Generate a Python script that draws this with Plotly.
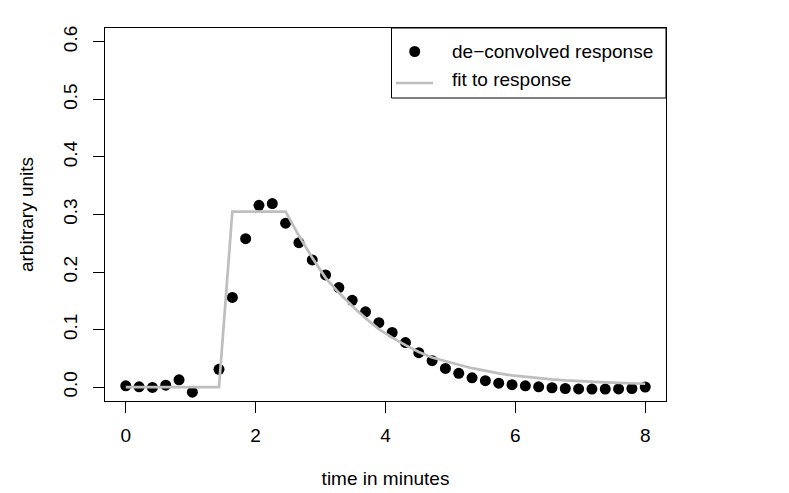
import plotly.graph_objects as go

# ---- data ----
n_points = 40
time_min = [i * 8 / 39 for i in range(n_points)]  # 40 sample times spanning 0..8 min

deconvolved = [0.0024, 0.0007, -0.0005, 0.0035, 0.0128, -0.0087, None, 0.031,
               0.156, 0.258, 0.316, 0.319, 0.285, 0.251, 0.221, 0.195,
               0.173, 0.151, 0.131, 0.112, 0.095, 0.0776, 0.060, 0.046,
               0.0325, 0.024, 0.0163, 0.0113, 0.0069, 0.0043, 0.0024, 0.0007,
               -0.001, -0.0023, -0.003, -0.0033, -0.0033, -0.003, -0.0023, 0.0003]

fit = [0, 0, 0, 0, 0, 0, 0, 0,
       0.305, 0.305, 0.305, 0.305, 0.305, 0.263, 0.225, 0.190,
       0.164, 0.141, 0.120, 0.101, 0.086, 0.073, 0.061, 0.0515,
       0.0446, 0.039, 0.033, 0.028, 0.024, 0.0205, 0.0178, 0.0155,
       0.0135, 0.0118, 0.0104, 0.0093, 0.0084, 0.0075, 0.0067, 0.0060]

x_ticks = [0, 2, 4, 6, 8]
y_ticks = [0.0, 0.1, 0.2, 0.3, 0.4, 0.5, 0.6]
y_tick_text = ["0.0", "0.1", "0.2", "0.3", "0.4", "0.5", "0.6"]
legend_labels = ["de\u2212convolved response", "fit to response"]

# ---- layout constants ----
W, H = 789, 493
ML, MR, MT, MB = 97, 131, 20, 100
PW, PH = W - ML - MR, H - MT - MB
FONT = "Liberation Sans, Arial, Helvetica, sans-serif"
FS = 19
GREY = "#BEBEBE"


def px_x(px):
    return (px - ML) / PW


def px_y(py):
    return (H - MB - py) / PH


fig = go.Figure()
fig.add_trace(go.Scatter(x=time_min, y=deconvolved, mode="markers",
                         marker=dict(color="black", size=11),
                         name=legend_labels[0], showlegend=False))
fig.add_trace(go.Scatter(x=time_min, y=fit, mode="lines",
                         line=dict(color=GREY, width=2.7),
                         name=legend_labels[1], showlegend=False))

# manual R-style legend
lx0, lx1, ly0, ly1 = 383.5, W - MR, MT, 90
shapes = [
    dict(type="rect", xref="paper", yref="paper",
         x0=px_x(lx0), x1=px_x(lx1), y0=px_y(ly1), y1=px_y(ly0),
         line=dict(color="black", width=1), fillcolor="white", layer="above"),
    dict(type="circle", xref="paper", yref="paper", xsizemode="pixel", ysizemode="pixel",
         xanchor=px_x(406.7), yanchor=px_y(43.5), x0=-5.5, x1=5.5, y0=-5.5, y1=5.5,
         fillcolor="black", line=dict(color="black", width=0), layer="above"),
    dict(type="line", xref="paper", yref="paper",
         x0=px_x(388), x1=px_x(425), y0=px_y(75), y1=px_y(75),
         line=dict(color=GREY, width=2.7), layer="above"),
]
annotations = [
    dict(text=legend_labels[0], xref="paper", yref="paper", x=px_x(442), y=px_y(43),
         xanchor="left", yanchor="middle", showarrow=False,
         font=dict(family=FONT, size=FS, color="black")),
    dict(text=legend_labels[1], xref="paper", yref="paper", x=px_x(442), y=px_y(71),
         xanchor="left", yanchor="middle", showarrow=False,
         font=dict(family=FONT, size=FS, color="black")),
]

axis_common = dict(showline=True, linecolor="black", linewidth=1, mirror=True,
                   showgrid=False, zeroline=False, ticks="outside", ticklen=11,
                   tickwidth=1, tickcolor="black",
                   tickfont=dict(family=FONT, size=FS, color="black"))

fig.update_layout(
    width=W, height=H,
    margin=dict(l=ML, r=MR, t=MT, b=MB, autoexpand=False),
    paper_bgcolor="white", plot_bgcolor="white",
    font=dict(family=FONT, size=FS, color="black"),
    shapes=shapes, annotations=annotations,
    xaxis=dict(range=[-0.32, 8.32], tickvals=x_ticks, ticktext=[str(v) for v in x_ticks],
               title=dict(text="time in minutes", standoff=26,
                          font=dict(family=FONT, size=FS, color="black")),
               ticklabelstandoff=6, automargin=False, **axis_common),
    yaxis=dict(range=[-0.024, 0.624], tickvals=y_ticks, ticktext=y_tick_text,
               tickangle=-90,
               title=dict(text="arbitrary units", standoff=21,
                          font=dict(family=FONT, size=FS, color="black")),
               ticklabelstandoff=8, automargin=False, **axis_common),
)

fig.write_html("out.html")
